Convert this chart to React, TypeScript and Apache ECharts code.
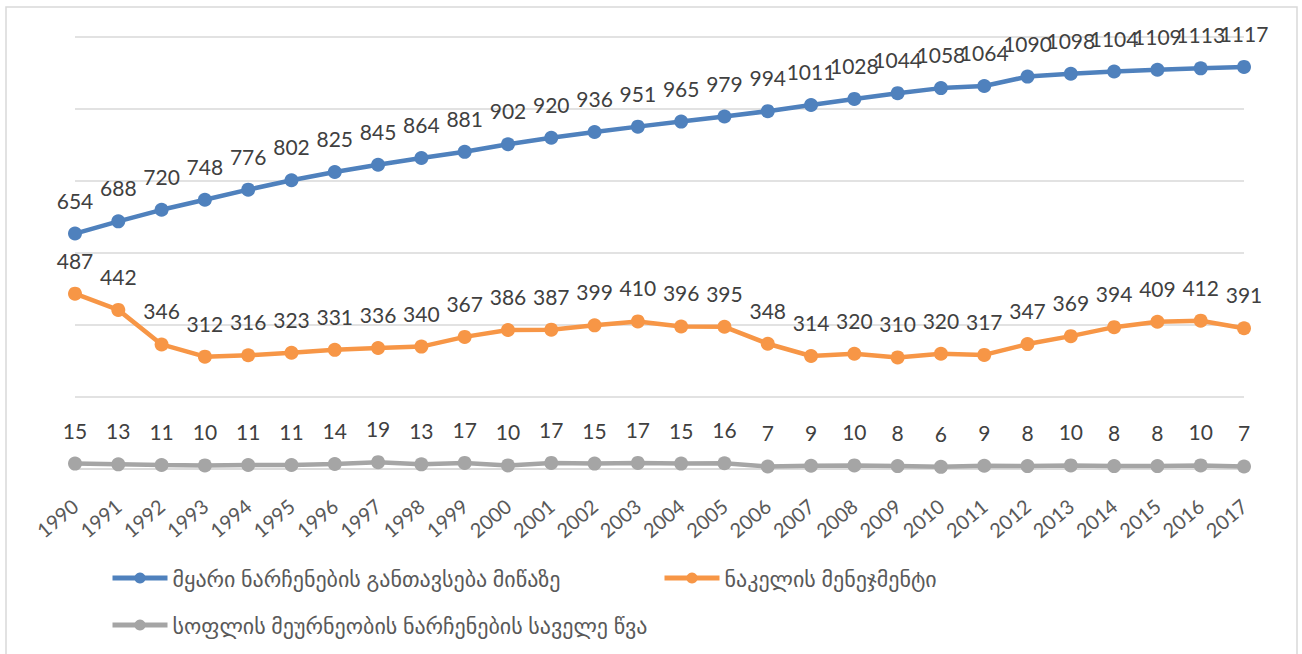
import React, { useEffect, useRef } from "react";
import * as echarts from "echarts";

const years = ["1990","1991","1992","1993","1994","1995","1996","1997","1998","1999","2000","2001","2002","2003","2004","2005","2006","2007","2008","2009","2010","2011","2012","2013","2014","2015","2016","2017"];
const solidWaste = [654,688,720,748,776,802,825,845,864,881,902,920,936,951,965,979,994,1011,1028,1044,1058,1064,1090,1098,1104,1109,1113,1117];
const wasteMgmt = [487,442,346,312,316,323,331,336,340,367,386,387,399,410,396,395,348,314,320,310,320,317,347,369,394,409,412,391];
const fieldBurning = [15,13,11,10,11,11,14,19,13,17,10,17,15,17,15,16,7,9,10,8,6,9,8,10,8,8,10,7];

const names = [
  "მყარი ნარჩენების განთავსება მიწაზე",
  "ნაკელის მენეჯმენტი",
  "სოფლის მეურნეობის ნარჩენების საველე წვა",
];
const colors = ["#4F81BD", "#F79646", "#A5A5A5"];
const font = "Lato, 'DejaVu Sans', sans-serif";

export default function App() {
  const ref = useRef<HTMLDivElement>(null);
  useEffect(() => {
    const chart = echarts.init(ref.current!, undefined, { renderer: "svg" });
    const mk = (i: number, data: number[]) => ({
      name: names[i],
      type: "line",
      data,
      symbol: "circle",
      symbolSize: 14,
      lineStyle: { width: 4.5, color: colors[i] },
      itemStyle: { color: colors[i] },
      label: {
        show: true,
        position: "top",
        distance: 16,
        color: "#404040",
        fontSize: 21,
        fontFamily: font,
      },
    });
    const leg = (i: number, left: number, top: number) => ({
      data: [names[i]],
      left,
      top,
      itemWidth: 55,
      itemHeight: 14,
      lineStyle: { width: 5 },
      textStyle: { color: "#595959", fontSize: 22, lineHeight: 24, fontFamily: font, padding: [0, 0, 0, 0] },
    });
    chart.setOption({
      animation: false,
      color: colors,
      graphic: [
        {
          type: "rect",
          shape: { x: 6, y: 7, width: 1291, height: 660 },
          style: { fill: "none", stroke: "#d9d9d9", lineWidth: 1.5 },
          silent: true,
        },
      ],
      grid: { left: 75, right: 58, top: 37, bottom: 185, containLabel: false },
      xAxis: {
        type: "category",
        data: years,
        boundaryGap: false,
        axisTick: { show: false },
        axisLine: { show: true, lineStyle: { color: "#d9d9d9", width: 1.5 } },
        axisLabel: {
          rotate: 40,
          margin: 34,
          interval: 0,
          color: "#595959",
          fontSize: 20,
          fontFamily: font,
        },
      },
      yAxis: {
        type: "value",
        min: 0,
        max: 1200,
        interval: 200,
        axisLabel: { show: false },
        axisLine: { show: false },
        axisTick: { show: false },
        splitLine: { lineStyle: { color: "#d9d9d9", width: 1.5 } },
      },
      legend: [leg(0, 105, 561), leg(1, 657, 561), leg(2, 105, 608)],
      series: [mk(0, solidWaste), mk(1, wasteMgmt), mk(2, fieldBurning)],
    });
    return () => chart.dispose();
  }, []);
  return (
    <div
      ref={ref}
      style={{ position: "absolute", left: 0, top: 0, width: 1302, height: 654, background: "#fff" }}
    />
  );
}
